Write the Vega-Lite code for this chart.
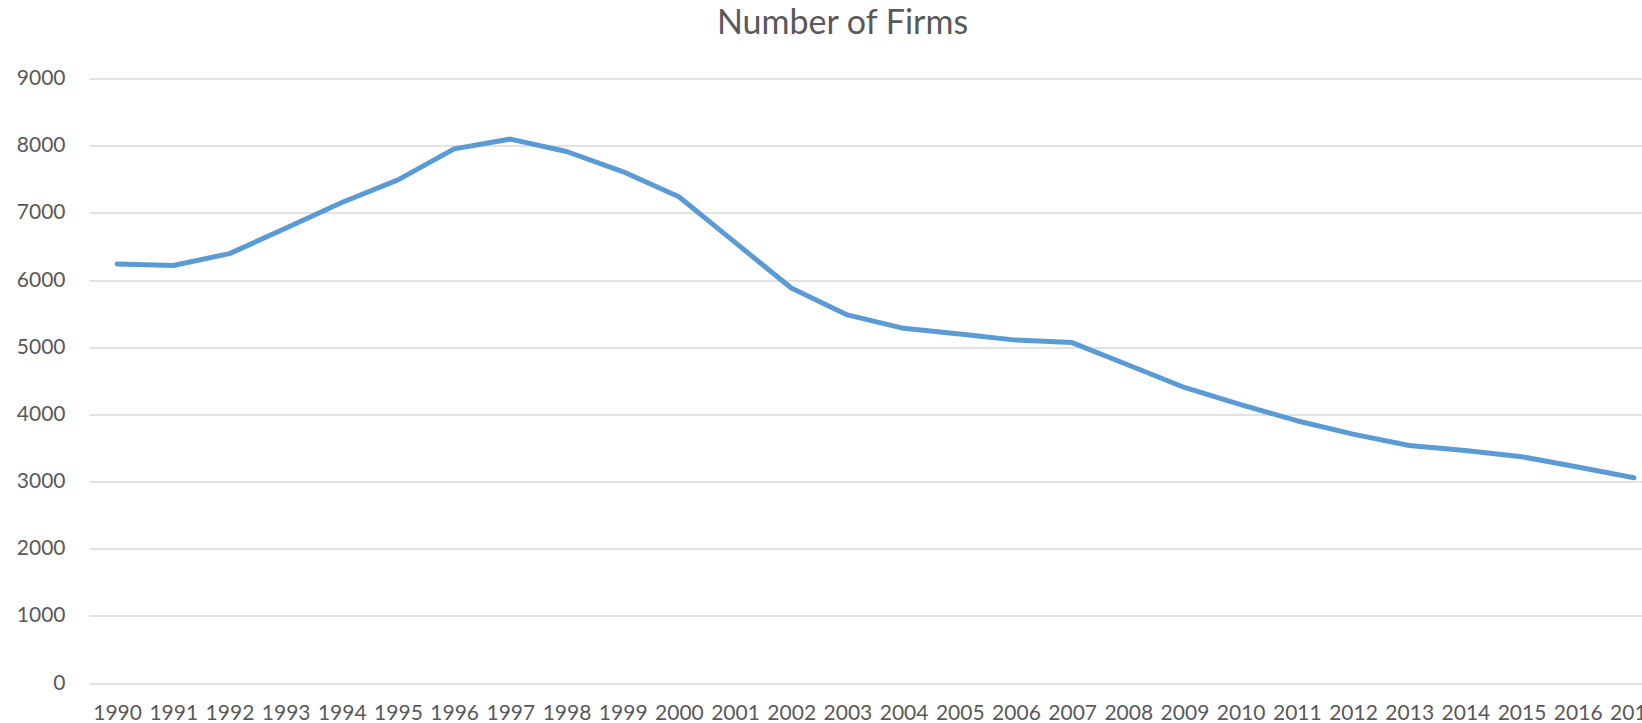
{
  "$schema": "https://vega.github.io/schema/vega-lite/v6.json",
  "autosize": {"type": "none"},
  "padding": {"left": 89, "top": 78.5, "right": 0, "bottom": 40},
  "width": 1573,
  "height": 604.5,
  "background": "white",
  "title": {
    "text": "Number of Firms",
    "font": "Lato",
    "fontSize": 34,
    "fontWeight": "normal",
    "color": "#595959",
    "anchor": "middle",
    "frame": "group",
    "dx": -33,
    "offset": 27
  },
  "config": {
    "view": {"stroke": null},
    "axis": {
      "labelFont": "Lato",
      "labelFontSize": 21,
      "labelColor": "#595959",
      "domain": false,
      "ticks": false,
      "title": null
    }
  },
  "data": {
    "values": [
      {"year": "1990", "firms": 6240},
      {"year": "1991", "firms": 6215},
      {"year": "1992", "firms": 6393},
      {"year": "1993", "firms": 6770},
      {"year": "1994", "firms": 7154},
      {"year": "1995", "firms": 7490},
      {"year": "1996", "firms": 7952},
      {"year": "1997", "firms": 8098},
      {"year": "1998", "firms": 7913},
      {"year": "1999", "firms": 7615},
      {"year": "2000", "firms": 7240},
      {"year": "2001", "firms": 6560},
      {"year": "2002", "firms": 5880},
      {"year": "2003", "firms": 5480},
      {"year": "2004", "firms": 5280},
      {"year": "2005", "firms": 5195},
      {"year": "2006", "firms": 5105},
      {"year": "2007", "firms": 5068},
      {"year": "2008", "firms": 4735},
      {"year": "2009", "firms": 4400},
      {"year": "2010", "firms": 4145},
      {"year": "2011", "firms": 3905},
      {"year": "2012", "firms": 3705},
      {"year": "2013", "firms": 3535},
      {"year": "2014", "firms": 3460},
      {"year": "2015", "firms": 3370},
      {"year": "2016", "firms": 3215},
      {"year": "2017", "firms": 3055}
    ]
  },
  "mark": {
    "type": "line",
    "color": "#5B9BD5",
    "strokeWidth": 5,
    "strokeCap": "round",
    "strokeJoin": "round"
  },
  "encoding": {
    "x": {
      "field": "year",
      "type": "ordinal",
      "scale": {"type": "point", "padding": 0.5},
      "axis": {
        "labelAngle": 0,
        "labelPadding": 19,
        "grid": false
      }
    },
    "y": {
      "field": "firms",
      "type": "quantitative",
      "scale": {"domain": [0, 9000], "nice": false},
      "axis": {
        "values": [0, 1000, 2000, 3000, 4000, 5000, 6000, 7000, 8000, 9000],
        "format": "d",
        "labelPadding": 24,
        "grid": true,
        "gridColor": "#d9d9d9",
        "gridWidth": 1.5
      }
    }
  }
}
